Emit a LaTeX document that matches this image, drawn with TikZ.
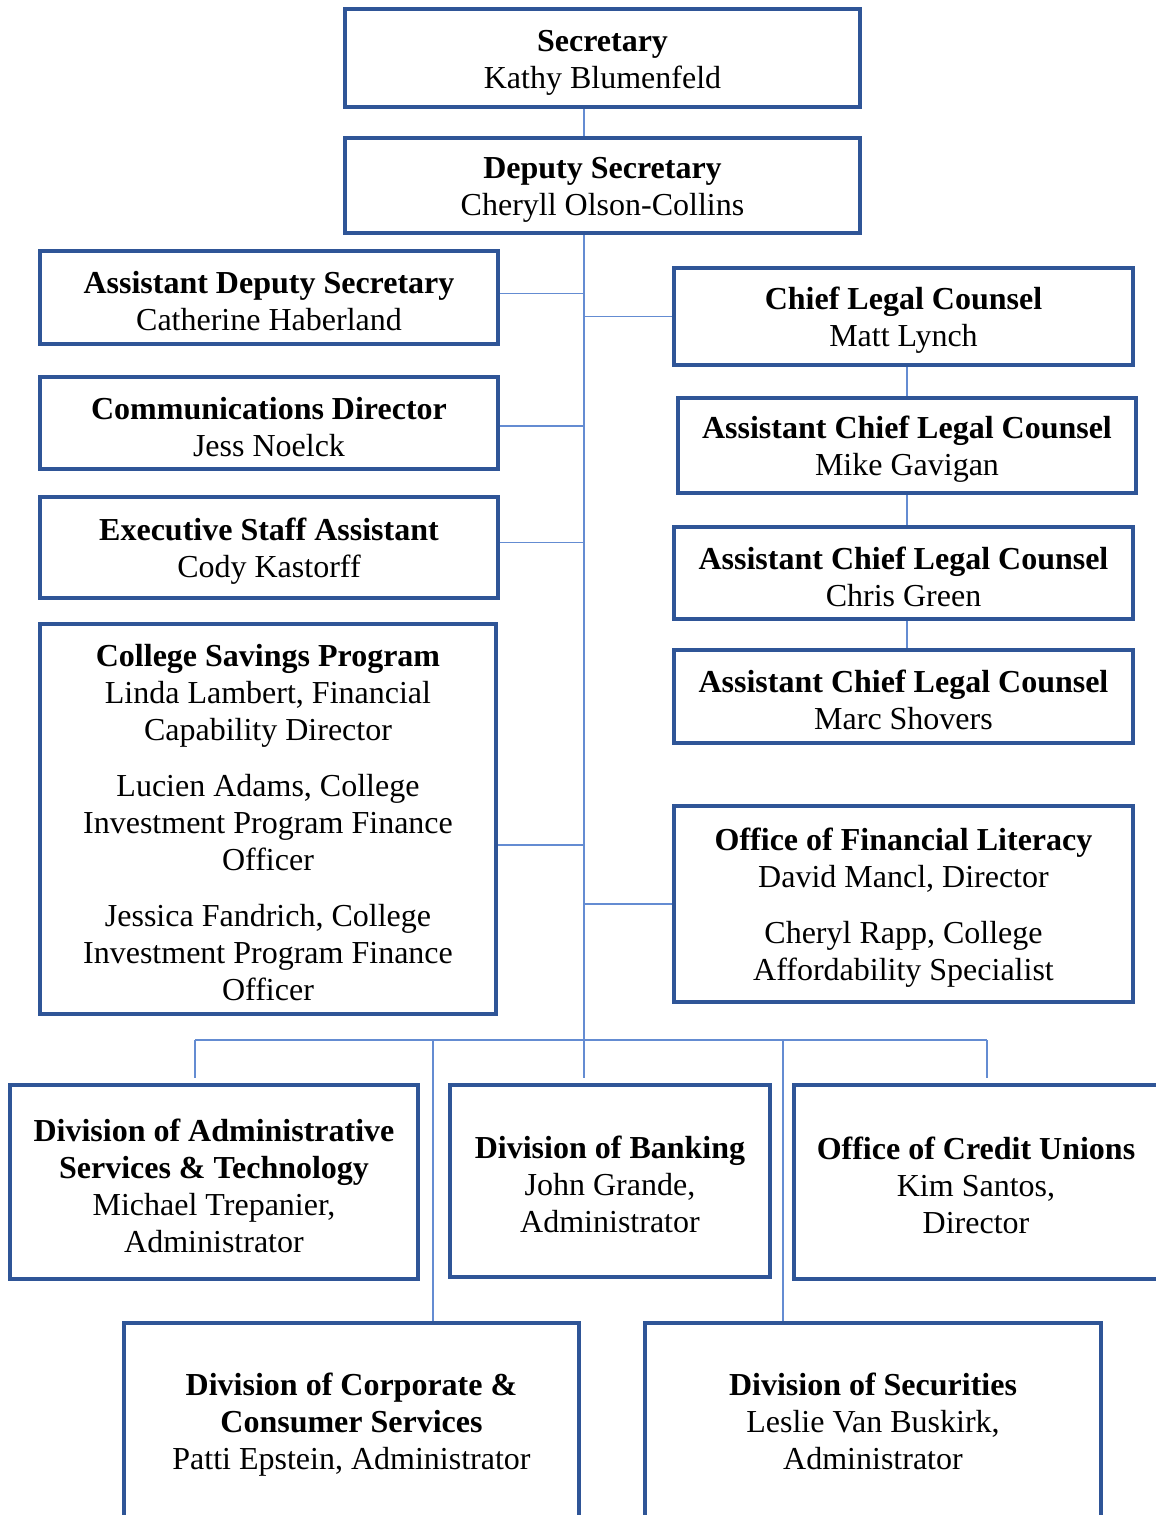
\documentclass[tikz,border=0pt]{standalone}
\usepackage{fontspec}
\setmainfont{Liberation Serif}
\definecolor{boxblue}{RGB}{47,85,151}
\definecolor{linkblue}{RGB}{100,140,210}
\newcommand{\hd}[1]{\rule{0pt}{30pt}\textbf{#1}}

\begin{document}
\begin{tikzpicture}[x=1pt,y=-1pt,
  orgbox/.style={draw=boxblue,line width=4.5pt,align=center,inner sep=0pt,
    font=\fontsize{32}{37}\selectfont},
  link/.style={draw=linkblue,line width=1.6pt}]
\useasboundingbox (0,0) rectangle (1156,1515);
\clip (0,0) rectangle (1156,1515);

% top of the chart
\node[orgbox,minimum width=515pt,minimum height=98pt] (sec) at (602.5,58)
  {\hd{Secretary}\\Kathy Blumenfeld};
\node[orgbox,minimum width=515pt,minimum height=95pt] (dep) at (602.5,185.5)
  {\hd{Deputy Secretary}\\Cheryll Olson-Collins};

% left column
\node[orgbox,minimum width=458pt,minimum height=93pt] (ads) at (269,297.5)
  {\hd{Assistant Deputy Secretary}\\Catherine Haberland};
\node[orgbox,minimum width=458pt,minimum height=92pt] (com) at (269,423)
  {\hd{Communications Director}\\Jess Noelck};
\node[orgbox,minimum width=458pt,minimum height=101pt] (esa) at (269,547.5)
  {\hd{Executive Staff Assistant}\\Cody Kastorff};
\node[orgbox,minimum width=456pt,minimum height=390pt] (csp) at (268,819)
  {\hd{College Savings Program}\\Linda Lambert, Financial\\Capability Director\\[19pt]
   Lucien Adams, College\\Investment Program Finance\\Officer\\[19pt]
   Jessica Fandrich, College\\Investment Program Finance\\Officer};

% right column
\node[orgbox,minimum width=459pt,minimum height=97pt] (clc) at (903.5,316.5)
  {\hd{Chief Legal Counsel}\\Matt Lynch};
\node[orgbox,minimum width=458pt,minimum height=95pt] (aclc1) at (907,445.5)
  {\hd{Assistant Chief Legal Counsel}\\Mike Gavigan};
\node[orgbox,minimum width=459pt,minimum height=92pt] (aclc2) at (903.5,573)
  {\hd{Assistant Chief Legal Counsel}\\Chris Green};
\node[orgbox,minimum width=459pt,minimum height=93pt] (aclc3) at (903.5,696.5)
  {\hd{Assistant Chief Legal Counsel}\\Marc Shovers};
\node[orgbox,minimum width=459pt,minimum height=196pt] (ofl) at (903.5,904)
  {\hd{Office of Financial Literacy}\\David Mancl, Director\\[19pt]
   Cheryl Rapp, College\\Affordability Specialist};

% divisions
\node[orgbox,minimum width=408pt,minimum height=194pt] (dast) at (214,1182)
  {\hd{Division of Administrative}\\\textbf{Services \& Technology}\\Michael Trepanier,\\Administrator};
\node[orgbox,minimum width=320pt,minimum height=192pt] (bank) at (610,1181)
  {\hd{Division of Banking}\\John Grande,\\Administrator};
\node[orgbox,minimum width=364pt,minimum height=194pt] (ocu) at (976,1182)
  {\hd{Office of Credit Unions}\\Kim Santos,\\Director};
\node[orgbox,minimum width=455pt,minimum height=196pt] (dccs) at (351.5,1421)
  {\hd{Division of Corporate \&}\\\textbf{Consumer Services}\\Patti Epstein, Administrator};
\node[orgbox,minimum width=456pt,minimum height=196pt] (dsec) at (873,1421)
  {\textbf{Division of Securities}\\Leslie Van Buskirk,\\Administrator};

% bus points
\coordinate (hub) at (584,1040);
\coordinate (busL) at (195,1040);
\coordinate (busR) at (987,1040);
\coordinate (dropL) at (433,1040);
\coordinate (dropR) at (783,1040);

\draw[link] (sec.south -| hub) -- (dep.north -| hub);
\draw[link] (dep.south -| hub) -- (hub);
\draw[link] ([yshift=4pt]ads.east) -- ([yshift=4pt]ads.east -| hub);
\draw[link] ([yshift=-3pt]com.east) -- ([yshift=-3pt]com.east -| hub);
\draw[link] ([yshift=5pt]esa.east) -- ([yshift=5pt]esa.east -| hub);
\draw[link] ([yshift=-26pt]csp.east) -- ([yshift=-26pt]csp.east -| hub);
\draw[link] (clc.west -| hub) -- (clc.west);
\draw[link] (ofl.west -| hub) -- (ofl.west);
\draw[link] (aclc1.north |- clc.south) -- (aclc1.north);
\draw[link] (aclc1.south) -- (aclc1.south |- aclc2.north);
\draw[link] (aclc1.south |- aclc2.south) -- (aclc1.south |- aclc3.north);
\draw[link] (busL) -- (busR);
\draw[link] (busL) -- ([yshift=5pt]busL |- dast.north);
\draw[link] (hub) -- ([yshift=5pt]hub |- bank.north);
\draw[link] (busR) -- ([yshift=5pt]busR |- ocu.north);
\draw[link] (dropL) -- (dropL |- dccs.north);
\draw[link] (dropR) -- (dropR |- dsec.north);
\end{tikzpicture}
\end{document}
